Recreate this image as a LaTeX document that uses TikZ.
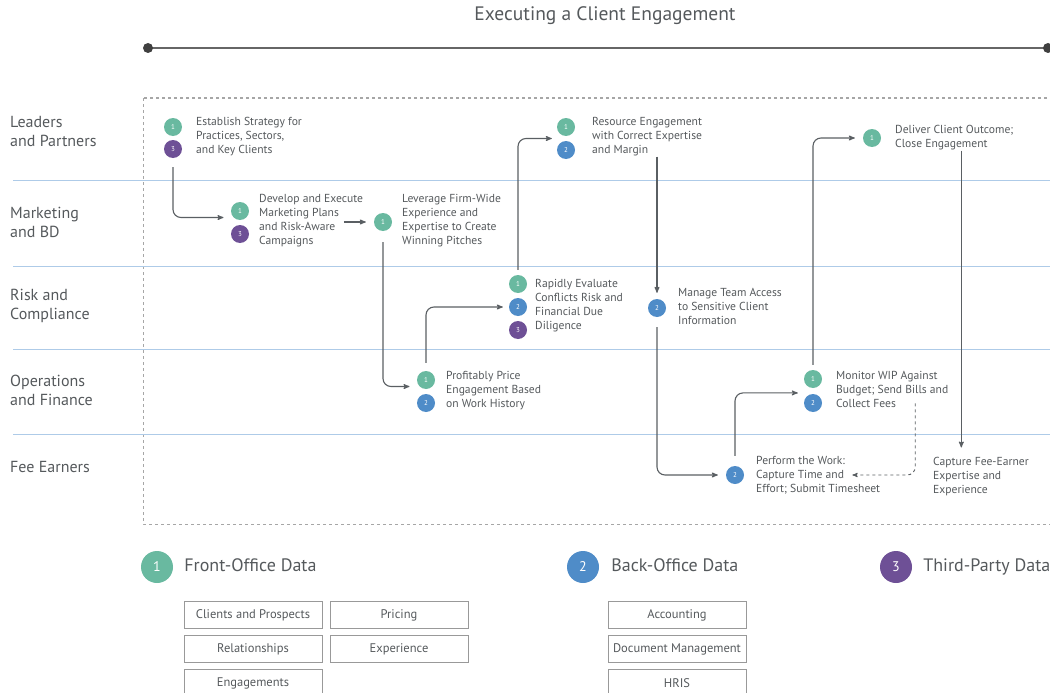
\documentclass[tikz,border=0pt]{standalone}
\usepackage{fontspec}
\setmainfont{PT Sans}
\usetikzlibrary{arrows, positioning, calc}

\definecolor{txtgray}{HTML}{55595C}
\definecolor{frontcol}{HTML}{69B9A0}
\definecolor{backcol}{HTML}{4F8CC8}
\definecolor{thirdcol}{HTML}{6E5096}
\definecolor{lanecol}{HTML}{AECBE8}
\definecolor{linecol}{HTML}{5A5F63}

\begin{document}
\begin{tikzpicture}[x=1pt, y=-1pt, >=stealth', text=txtgray]

\tikzstyle{badge} = [circle, minimum size=18pt, inner sep=0pt, text=white, font=\fontsize{7}{8}\selectfont]
\tikzstyle{front} = [badge, fill=frontcol]
\tikzstyle{back} = [badge, fill=backcol]
\tikzstyle{third} = [badge, fill=thirdcol]
\tikzstyle{steptext} = [anchor=west, align=left, inner sep=0pt, font=\fontsize{11.6}{14}\selectfont]
\tikzstyle{lane} = [anchor=west, align=left, inner sep=0pt, font=\fontsize{16}{19}\selectfont]
\tikzstyle{flow} = [->, draw=linecol, line width=1.1pt, rounded corners=8pt]
\tikzstyle{legend} = [inner sep=0pt, text height=13pt, text depth=4pt, font=\fontsize{18}{20}\selectfont]
\tikzstyle{databox} = [draw=gray!80, line width=1pt, minimum width=138pt, minimum height=26.5pt, inner sep=0pt, font=\fontsize{12.5}{14}\selectfont]

\useasboundingbox (0,0) rectangle (1050,693);

%Title and timeline
\node[font=\fontsize{19.5}{22}\selectfont] (title) at (605,16) {Executing a Client Engagement};
\draw[line width=2.5pt, draw=gray!80!black] (148,48) -- (1050,48);
\fill[black!75] (148,48) circle (5) (1048,48) circle (5);

%Lanes
\draw[gray!70, dashed, line width=1pt, dash pattern=on 3pt off 3pt] (143,98) rectangle (1060,524);
\foreach \y in {180,266,349,434}
  \draw[lanecol, line width=1pt] (13,\y) -- (1050,\y);

\node[lane] (leaders) at (10,131) {Leaders\\and Partners};
\node[lane] (marketing) at (10,222) {Marketing\\and BD};
\node[lane] (risk) at (10,306) {Risk and\\Compliance};
\node[lane] (operations) at (10,390) {Operations\\and Finance};
\node[lane] (fee) at (10,467) {Fee Earners};

%Steps
\node[front] (s1) at (173,127) {1};
\node[third] (s3) at (173,149) {3};
\node[steptext] (strategy) at (196,137) {Establish Strategy for\\Practices, Sectors,\\and Key Clients};

\node[front] (m1) at (240,211) {1};
\node[third] (m3) at (240,234) {3};
\node[steptext] (mkt) at (259,221) {Develop and Execute\\Marketing Plans\\and Risk-Aware\\Campaigns};

\node[front] (l1) at (383,222) {1};
\node[steptext] (leverage) at (402,221) {Leverage Firm-Wide\\Experience and\\Expertise to Create\\Winning Pitches};

\node[front] (r1) at (566,127) {1};
\node[back] (r2) at (566,150) {2};
\node[steptext] (resource) at (592,137) {Resource Engagement\\with Correct Expertise\\and Margin};

\node[front] (d1) at (872,138) {1};
\node[steptext] (deliver) at (895,138) {Deliver Client Outcome;\\Close Engagement};

\node[front] (e1) at (518,284) {1};
\node[back] (e2) at (518,307) {2};
\node[third] (e3) at (518,330) {3};
\node[steptext] (evaluate) at (535,306) {Rapidly Evaluate\\Conflicts Risk and\\Financial Due\\Diligence};

\node[back] (t2) at (657,308) {2};
\node[steptext] (access) at (678,306) {Manage Team Access\\to Sensitive Client\\Information};

\node[front] (p1) at (426,380) {1};
\node[back] (p2) at (426,403) {2};
\node[steptext] (price) at (446,391) {Profitably Price\\Engagement Based\\on Work History};

\node[front] (w1) at (813,379) {1};
\node[back] (w2) at (813,403) {2};
\node[steptext] (monitor) at (836,389) {Monitor WIP Against\\Budget; Send Bills and\\Collect Fees};

\node[back] (f2) at (735,475) {2};
\node[steptext] (perform) at (756,475) {Perform the Work:\\Capture Time and\\Effort; Submit Timesheet};

\node[steptext] (capture) at (933,477) {Capture Fee-Earner\\Expertise and\\Experience};

%Connecting steps
\draw[flow, shorten <=9pt] (s3.south) |- ([xshift=-10pt]m1.south west);
\draw[flow] ([xshift=-30pt]l1.west) -- ([xshift=-8pt]l1.west);
\draw[flow, shorten <=11pt] (l1.south) |- ([xshift=-10pt]p1.south west);
\draw[flow, shorten <=8pt] (p1.north) |- ([xshift=-6pt]e2.west);
\draw[flow, shorten <=5pt] (e1.north) |- ([xshift=-5pt]$(r1.west)!.5!(r2.west)$);
\draw[flow, shorten >=6pt] (resource.south -| t2.north) -- (t2.north);
\draw[flow, shorten <=10pt] (t2.south) |- ([xshift=-8pt]f2.west);
\draw[flow, shorten <=10pt] (f2.north) |- ([xshift=-6pt]$(w1.west)!.58!(w2.west)$);
\draw[flow, shorten <=5pt] (w1.north) |- ([xshift=-8pt]d1.west);
\draw[flow, shorten >=10pt] ([xshift=7pt]deliver.south) -- ([xshift=7pt]deliver.south |- capture.north);
\draw[flow, dashed, line width=0.9pt] ([xshift=23pt,yshift=4pt]monitor.south) |- ([xshift=-28pt]perform.east);

%Legend
\node[front, minimum size=32pt, font=\fontsize{14}{16}\selectfont] (g1) at (157,567) {1};
\node[legend, right=11pt of g1] (frontdata) {Front-Office Data};
\node[back, minimum size=32pt, font=\fontsize{14}{16}\selectfont] (g2) at (583,567) {2};
\node[legend, right=12pt of g2] (backdata) {Back-Office Data};
\node[third, minimum size=32pt, font=\fontsize{14}{16}\selectfont] (g3) at (896,567) {3};
\node[legend, right=11pt of g3] (thirddata) {Third-Party Data};

\node[databox] (clients) at (253,615) {Clients and Prospects};
\node[databox, right=7pt of clients] (pricing) {Pricing};
\node[databox, below=6.5pt of clients] (relations) {Relationships};
\node[databox, right=7pt of relations] (experience) {Experience};
\node[databox, below=6.5pt of relations] (engagements) {Engagements};

\node[databox] (accounting) at (677,615) {Accounting};
\node[databox, below=6.5pt of accounting] (documents) {Document Management};
\node[databox, below=6.5pt of documents] (hris) {HRIS};

\end{tikzpicture}
\end{document}
